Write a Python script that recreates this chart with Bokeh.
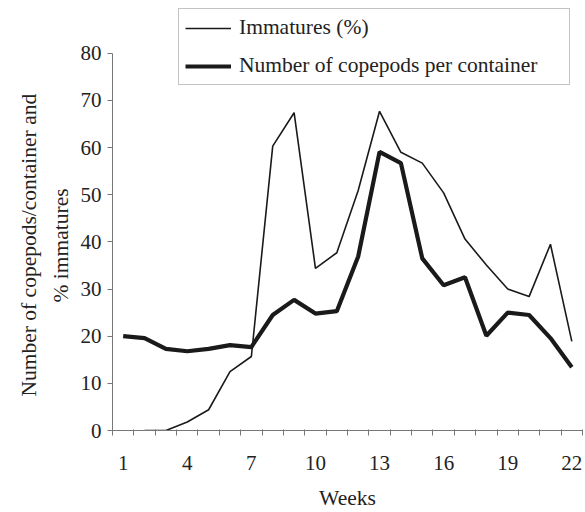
from bokeh.plotting import figure
from bokeh.models import Range1d, FixedTicker, Legend, LegendItem, Title
from bokeh.embed import file_html
from bokeh.resources import INLINE

weeks = list(range(1, 23))
immature_weeks = list(range(2, 23))
immatures = [0, 0, 1.8, 4.4, 12.5, 15.7, 60.3, 67.4, 34.4, 37.7, 50.9, 67.7,
             59.0, 56.7, 50.4, 40.6, 35.1, 30.0, 28.4, 39.5, 18.9]
copepods = [20.0, 19.6, 17.3, 16.8, 17.3, 18.1, 17.7, 24.5, 27.7, 24.8, 25.3,
            36.9, 59.1, 56.7, 36.5, 30.8, 32.5, 20.1, 25.0, 24.5, 19.6, 13.4]
x_tick_labels = [1, 4, 7, 10, 13, 16, 19, 22]
y_ticks = [0, 10, 20, 30, 40, 50, 60, 70, 80]
Y_AXIS_MAX = 80
Y_VIEW_MAX = 89.5   # extra headroom above the axis for the legend box

FONT = "Liberation Serif"
TXT = "#222222"
AX = "#777777"

p = figure(width=585, height=512, output_backend="svg", toolbar_location=None,
           x_range=Range1d(0.5, 22.5), y_range=Range1d(0, Y_VIEW_MAX),
           min_border_left=112, min_border_right=3, min_border_top=8,
           min_border_bottom=81)
p.outline_line_color = None
p.xgrid.visible = False
p.ygrid.visible = False
p.background_fill_color = "white"
p.border_fill_color = "white"

r1 = p.line(immature_weeks, immatures, line_color="#1a1a1a", line_width=1.6)
r2 = p.line(weeks, copepods, line_color="#1a1a1a", line_width=4.2)

xa = p.xaxis[0]
xa.ticker = FixedTicker(ticks=x_tick_labels,
                        minor_ticks=[w - 0.5 for w in weeks] + [22.5])
xa.major_tick_out = 0
xa.major_tick_in = 0
xa.minor_tick_out = 5
xa.minor_tick_in = 1
xa.minor_tick_line_color = AX
xa.axis_line_color = AX
xa.major_label_text_font = FONT
xa.major_label_text_font_size = "21px"
xa.major_label_text_color = TXT
xa.major_label_standoff = 20
xa.axis_label = "Weeks"
xa.axis_label_text_font = FONT
xa.axis_label_text_font_size = "21.5px"
xa.axis_label_text_font_style = "normal"
xa.axis_label_text_color = TXT
xa.axis_label_standoff = 13

ya = p.yaxis[0]
ya.bounds = (0, Y_AXIS_MAX)
ya.ticker = FixedTicker(ticks=y_ticks, minor_ticks=[])
ya.major_tick_out = 5
ya.major_tick_in = 0
ya.major_tick_line_color = AX
ya.axis_line_color = AX
ya.major_label_text_font = FONT
ya.major_label_text_font_size = "21px"
ya.major_label_text_color = TXT
ya.major_label_standoff = 6

t2 = Title(text="% immatures", align="left", vertical_align="bottom",
           offset=128, standoff=10, text_font=FONT, text_font_size="21.5px",
           text_font_style="normal", text_color=TXT)
t1 = Title(text="Number of copepods/container and", align="left",
           vertical_align="bottom", offset=34, standoff=2, text_font=FONT,
           text_font_size="21.5px", text_font_style="normal", text_color=TXT)
p.add_layout(t2, "left")
p.add_layout(t1, "left")

legend = Legend(items=[LegendItem(label="Immatures (%)", renderers=[r1]),
                       LegendItem(label="Number of copepods per container", renderers=[r2])],
                location=(66, 345), orientation="vertical",
                label_text_font=FONT, label_text_font_size="21.5px",
                label_text_color=TXT, glyph_width=46, glyph_height=20,
                label_standoff=8, label_width=324, spacing=13, padding=6,
                margin=0, border_line_color="#888888", border_line_width=1,
                background_fill_color="white", background_fill_alpha=1)
p.add_layout(legend, "center")

open("out.html", "w").write(file_html(p, INLINE))
